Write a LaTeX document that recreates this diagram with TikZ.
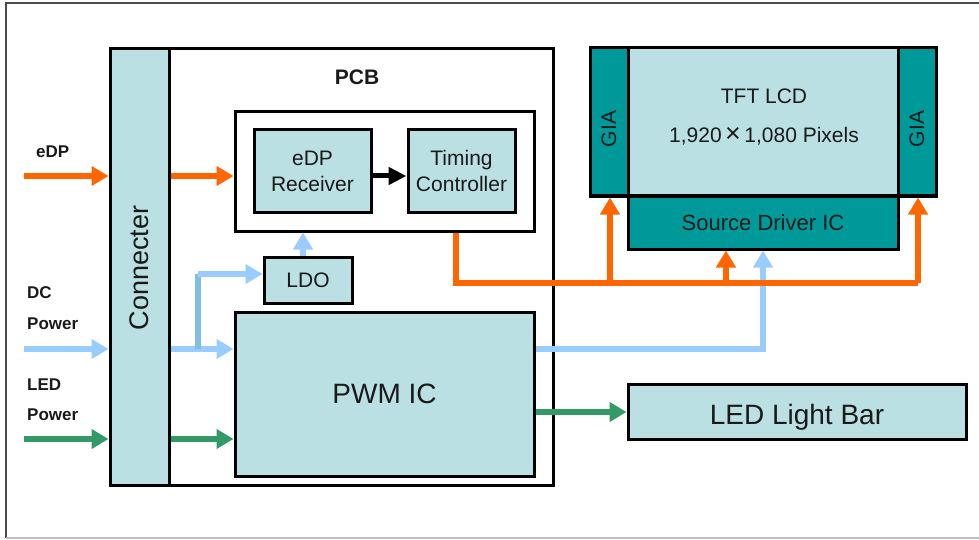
\documentclass[tikz,border=0pt]{standalone}
\usepackage{fontspec}
\setmainfont{Liberation Sans}
\usetikzlibrary{arrows.meta}
\definecolor{lfill}{HTML}{BBE0E3}
\definecolor{dteal}{HTML}{009999}
\definecolor{corange}{HTML}{FF6600}
\definecolor{cblue}{HTML}{99CCFF}
\definecolor{cblued}{HTML}{80BFDF}
\definecolor{cgreen}{HTML}{339966}
\definecolor{ctext}{HTML}{1A1A1A}
\tikzset{
  blk/.style={draw=black, line width=3pt, fill=lfill, text=ctext, inner sep=0pt, align=center, font=\fontsize{21}{26}\selectfont},
  dblk/.style={blk, fill=dteal},
  wblk/.style={draw=black, line width=3pt, fill=white, inner sep=0pt},
  lbl/.style={font=\bfseries\fontsize{17}{20}\selectfont, anchor=west, inner sep=0pt, text=ctext},
  sig/.style={line width=6.5pt, -{Triangle[length=17pt,width=19pt]}},
  osig/.style={sig, draw=corange},
  bsig/.style={sig, draw=cblue},
  gsig/.style={sig, draw=cgreen},
}
\begin{document}
\begin{tikzpicture}[x=1pt,y=-1pt]
\useasboundingbox (0,0) rectangle (979,540);
% outer frame
\draw[draw=black!70, line width=1.5pt] (979,3) -- (6,3) -- (6,538);
\draw[draw=black!25, line width=1.5pt] (6,538) -- (979,538);

% PCB and connector
\node[wblk, minimum width=443pt, minimum height=436pt] (pcb) at (331.5,267) {};
\node[font=\bfseries\fontsize{21}{25}\selectfont, text=ctext] (pcbl) at (357,77) {PCB};
\node[blk, minimum width=59pt, minimum height=436pt] (con) at (139.5,267) {};
\node[rotate=90, font=\fontsize{27}{30}\selectfont, text=ctext] (conl) at (139.5,268) {Connecter};

% inner box
\node[wblk, minimum width=299pt, minimum height=119pt] (inner) at (384.5,171.5) {};
\node[blk, minimum width=117pt, minimum height=82pt] (rx) at (312.5,171) {eDP\\Receiver};
\node[blk, minimum width=107pt, minimum height=82pt] (tc) at (461.5,171) {Timing\\Controller};
\node[blk, minimum width=88pt, minimum height=46pt] (ldo) at (308,280) {LDO};
\node[blk, minimum width=299pt, minimum height=164pt, font=\fontsize{28}{32}\selectfont] (pwm) at (384.5,394) {PWM IC};

% LCD
\node[dblk, minimum width=38pt, minimum height=148pt] (gial) at (609,122) {};
\node[rotate=90, font=\fontsize{21}{25}\selectfont, text=ctext] at ([yshift=-7pt]gial.center) {GIA};
\node[dblk, minimum width=38pt, minimum height=148pt] (giar) at (917,122) {};
\node[rotate=90, font=\fontsize{21}{25}\selectfont, text=ctext] at ([yshift=-7pt]giar.center) {GIA};
\node[blk, minimum width=270pt, minimum height=148pt] (tft) at (763,122) {};
\node[font=\fontsize{21}{25}\selectfont, text=ctext] (tftl) at (764,96) {TFT LCD};
\node[font=\fontsize{21}{25}\selectfont, text=ctext] (pix) at (764,136) {1,920\,{\fontsize{27}{27}\selectfont ×}\,1,080 Pixels};
\node[dblk, minimum width=270pt, minimum height=53pt, font=\fontsize{22}{26}\selectfont] (sd) at (763,222.5) {Source Driver IC};
\node[blk, minimum width=338pt, minimum height=55pt] (led) at (797,411.5) {};
\node[font=\fontsize{28}{32}\selectfont, text=ctext] (ledl) at (797,417) {LED Light Bar};

% input labels
\node[lbl] (ledp) at (36,152) {eDP};
\node[lbl] (ldc1) at (27,293) {DC};
\node[lbl] (ldc2) at (27,324) {Power};
\node[lbl] (lled1) at (27,385) {LED};
\node[lbl] (lled2) at (27,415) {Power};

% free ends
\coordinate (inedp) at (24,176);
\coordinate (indc) at (24,349);
\coordinate (inled) at (24,439);

% eDP path
\draw[osig] (inedp) -- (inedp -| con.west);
\draw[osig] (con.east |- inedp) -- (inner.west |- inedp);
\draw[line width=5pt, -{Triangle[length=18pt,width=17pt]}] (rx.east |- 0,176) -- (tc.west |- 0,176);

% DC path
\draw[bsig] (indc) -- (indc -| con.west);
\draw[bsig] (con.east |- indc) -- (pwm.west |- indc);
\draw[line width=6.5pt, draw=cblued] (198,349) -- (198,274);
\draw[bsig] (198,274) -- (ldo.west |- 0,274);
\draw[bsig] (ldo.north) ++(-5,0) coordinate (ldotop) -- (ldotop |- inner.south);
\draw[bsig] (pwm.east |- 0,349) -| (sd.south -| 763,0);

% LED path
\draw[gsig] (inled) -- (inled -| con.west);
\draw[gsig] (con.east |- inled) -- (pwm.west |- inled);
\draw[gsig] (pwm.east |- 0,412) -- (led.west |- 0,412);

% timing bus
\draw[line width=6.5pt, draw=corange] (inner.south -| 456,0) |- (918,283);
\draw[osig] (610,283) -- (gial.south -| 610,0);
\draw[osig] (726,283) -- (sd.south -| 726,0);
\draw[osig] (918,283) -- (giar.south -| 918,0);
\end{tikzpicture}
\end{document}
